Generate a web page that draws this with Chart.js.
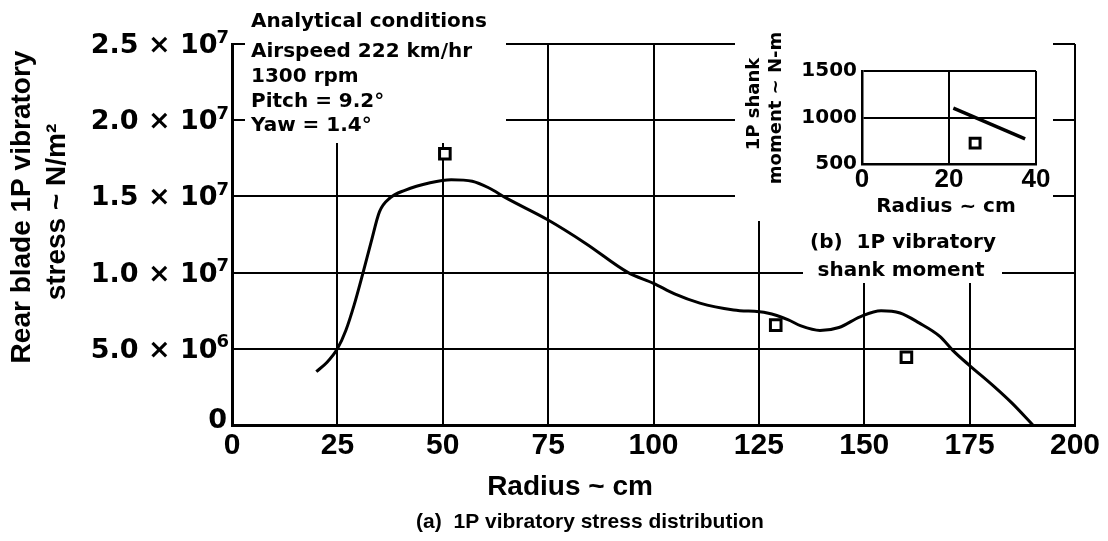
<!DOCTYPE html>
<html>
<head>
<meta charset="utf-8">
<script src="https://cdn.jsdelivr.net/npm/chart.js@4.4.1/dist/chart.umd.min.js"></script>
<style>
  html, body { margin: 0; padding: 0; background: #fff; }
  #wrap { position: relative; width: 1108px; height: 541px; overflow: hidden; }
  #main { position: absolute; left: 0; top: 0; }
  #inset { position: absolute; left: 735px; top: 0; }
</style>
</head>
<body>
<div id="wrap">
  <canvas id="main" width="1108" height="541"></canvas>
  <canvas id="inset" width="318" height="225"></canvas>
</div>
<script>
// (a) analytical 1P vibratory stress along the rear blade
const radiusCm = [20, 22.5, 25, 27, 29, 31, 33, 35, 37.5, 41, 47, 52, 57, 61, 65, 75, 84, 94, 100, 105, 111, 119, 127, 132, 135, 139.5, 144, 149, 154, 158.5, 163, 168, 171, 175, 180.5, 185, 190];
const stressNm2 = [3.5e6, 4.1e6, 5.0e6, 6.2e6, 7.9e6, 9.9e6, 1.2e7, 1.4e7, 1.49e7, 1.54e7, 1.59e7, 1.61e7, 1.60e7, 1.555e7, 1.49e7, 1.345e7, 1.19e7, 1.0e7, 9.3e6, 8.6e6, 8.0e6, 7.55e6, 7.35e6, 6.9e6, 6.5e6, 6.2e6, 6.4e6, 7.1e6, 7.5e6, 7.35e6, 6.7e6, 5.8e6, 4.9e6, 3.9e6, 2.6e6, 1.45e6, 0];

// measured points
const testRadiusCm = [50.5, 129, 160];
const testStressNm2 = [1.78e7, 6.55e6, 4.45e6];

// axis ticks
const radiusTicks = [0, 25, 50, 75, 100, 125, 150, 175, 200];
const stressTicks = [0, 5e6, 1e7, 1.5e7, 2e7, 2.5e7];
const stressMantissa = ['0', '5.0 \u00d7 10', '1.0 \u00d7 10', '1.5 \u00d7 10', '2.0 \u00d7 10', '2.5 \u00d7 10'];
const stressExponent = ['', '6', '7', '7', '7', '7'];

const conditionLines = ['Analytical conditions', 'Airspeed 222 km/hr', '1300 rpm', 'Pitch = 9.2\u00b0', 'Yaw = 1.4\u00b0'];

// (b) 1P vibratory shank moment
const shankRadiusCm = [21, 37.5];
const shankMomentNm = [1100, 770];
const shankTestRadiusCm = [26];
const shankTestMomentNm = [725];
const shankRadiusTicks = [0, 20, 40];
const shankMomentTicks = [500, 1000, 1500];

const BLACK = '#000';
const WIDE = '"DejaVu Sans", sans-serif';
const HELV = '"Liberation Sans", Arial, sans-serif';

function toPoints(xs, ys) { return xs.map((x, i) => ({ x: x, y: ys[i] })); }

// white panels that sit on top of the grid behind the annotations
const panels = {
  id: 'panels',
  beforeDatasetsDraw(chart) {
    const ctx = chart.ctx;
    ctx.save();
    ctx.fillStyle = '#fff';
    ctx.fillRect(245, 0, 261, 143);    // conditions block
    ctx.fillRect(735, 0, 318, 221);    // inset (b)
    ctx.fillRect(803, 221, 199, 62);   // inset caption
    ctx.restore();
  },
  afterDraw(chart) {
    const ctx = chart.ctx;
    const y = chart.scales.y;
    ctx.save();
    ctx.fillStyle = BLACK;

    // stress tick labels with raised exponents
    const right = 229;
    stressTicks.forEach((v, i) => {
      const py = y.getPixelForValue(v);
      ctx.textBaseline = 'middle';
      ctx.textAlign = 'right';
      if (stressExponent[i] === '') {
        ctx.font = 'bold 27px ' + WIDE;
        ctx.fillText(stressMantissa[i], right - 2, py - 4);
        return;
      }
      ctx.font = 'bold 18px ' + WIDE;
      const ew = ctx.measureText(stressExponent[i]).width;
      ctx.fillText(stressExponent[i], right, py - 6);
      ctx.font = 'bold 27px ' + WIDE;
      ctx.fillText(stressMantissa[i], right - ew + 1, py + 2);
    });

    // y axis title
    ctx.font = 'bold 28px ' + HELV;
    ctx.textAlign = 'center';
    ctx.textBaseline = 'middle';
    ctx.save();
    ctx.translate(22, 207);
    ctx.rotate(-Math.PI / 2);
    ctx.fillText('Rear blade 1P vibratory', 0, 0);
    ctx.restore();
    ctx.save();
    ctx.translate(57, 212);
    ctx.rotate(-Math.PI / 2);
    ctx.fillText('stress ~ N/m\u00b2', 0, 0);
    ctx.restore();

    // x axis title and caption
    ctx.font = 'bold 28px ' + HELV;
    ctx.fillText('Radius ~ cm', 570, 487);
    ctx.font = 'bold 21px ' + HELV;
    ctx.fillText('(a)  1P vibratory stress distribution', 590, 522);

    // analytical conditions
    ctx.font = 'bold 20px ' + WIDE;
    ctx.textAlign = 'left';
    const rows = [22, 52, 77, 102, 126];
    conditionLines.forEach((t, i) => ctx.fillText(t, 251, rows[i]));

    // inset caption
    ctx.textAlign = 'center';
    ctx.fillText('(b)  1P vibratory', 903, 243);
    ctx.fillText('shank moment', 901, 271);
    ctx.restore();
  }
};

new Chart(document.getElementById('main'), {
  type: 'line',
  data: {
    datasets: [
      {
        data: toPoints(radiusCm, stressNm2),
        borderColor: BLACK,
        borderWidth: 3,
        pointRadius: 0,
        fill: false,
        cubicInterpolationMode: 'monotone'
      },
      {
        data: toPoints(testRadiusCm, testStressNm2),
        showLine: false,
        pointStyle: 'rect',
        pointRadius: 7.5,
        borderWidth: 3,
        borderColor: BLACK,
        backgroundColor: '#fff'
      }
    ]
  },
  options: {
    responsive: false,
    animation: false,
    devicePixelRatio: 1,
    layout: { padding: { left: 0, top: 44, right: 33, bottom: 0 } },
    plugins: { legend: { display: false }, tooltip: { enabled: false } },
    scales: {
      x: {
        type: 'linear', min: 0, max: 200,
        afterBuildTicks: s => { s.ticks = radiusTicks.map(v => ({ value: v })); },
        afterFit: s => { s.height = 116; },
        grid: { color: BLACK, lineWidth: 2, drawTicks: false },
        border: { color: BLACK, width: 3 },
        ticks: {
          color: BLACK, padding: 3, maxRotation: 0, autoSkip: false,
          font: { family: HELV, weight: 'bold', size: 30 },
          callback: v => String(v)
        }
      },
      y: {
        type: 'linear', min: 0, max: 2.5e7,
        afterBuildTicks: s => { s.ticks = stressTicks.map(v => ({ value: v })); },
        afterFit: s => { s.width = 232; },
        grid: { color: BLACK, lineWidth: 2, drawTicks: false },
        border: { color: BLACK, width: 3 },
        ticks: { display: false }
      }
    }
  },
  plugins: [panels]
});

// inset titles
const insetTitles = {
  id: 'insetTitles',
  afterDraw(chart) {
    const ctx = chart.ctx;
    ctx.save();
    ctx.fillStyle = BLACK;
    ctx.textAlign = 'center';
    ctx.textBaseline = 'middle';
    ctx.font = 'bold 18px ' + WIDE;
    ctx.save();
    ctx.translate(19, 104);
    ctx.rotate(-Math.PI / 2);
    ctx.fillText('1P shank', 0, 0);
    ctx.restore();
    ctx.save();
    ctx.translate(41, 108);
    ctx.rotate(-Math.PI / 2);
    ctx.fillText('moment ~ N-m', 0, 0);
    ctx.restore();
    ctx.font = 'bold 20px ' + WIDE;
    ctx.fillText('Radius ~ cm', 211, 207);
    ctx.restore();
  }
};

new Chart(document.getElementById('inset'), {
  type: 'line',
  data: {
    datasets: [
      {
        data: toPoints(shankRadiusCm, shankMomentNm),
        borderColor: BLACK,
        borderWidth: 3.5,
        pointRadius: 0,
        fill: false
      },
      {
        data: toPoints(shankTestRadiusCm, shankTestMomentNm),
        showLine: false,
        pointStyle: 'rect',
        pointRadius: 7,
        borderWidth: 3,
        borderColor: BLACK,
        backgroundColor: '#fff'
      }
    ]
  },
  options: {
    responsive: false,
    animation: false,
    devicePixelRatio: 1,
    layout: { padding: { left: 0, top: 71, right: 17, bottom: 0 } },
    plugins: { legend: { display: false }, tooltip: { enabled: false } },
    scales: {
      x: {
        type: 'linear', min: 0, max: 40,
        afterBuildTicks: s => { s.ticks = shankRadiusTicks.map(v => ({ value: v })); },
        afterFit: s => { s.height = 61; },
        grid: { color: BLACK, lineWidth: 2, drawTicks: false },
        border: { color: BLACK, width: 2.5 },
        ticks: {
          color: BLACK, padding: 0, maxRotation: 0, autoSkip: false,
          font: { family: HELV, weight: 'bold', size: 26 },
          callback: v => String(v)
        }
      },
      y: {
        type: 'linear', min: 500, max: 1500,
        afterBuildTicks: s => { s.ticks = shankMomentTicks.map(v => ({ value: v })); },
        afterFit: s => { s.width = 127; },
        grid: { color: BLACK, lineWidth: 2, drawTicks: false },
        border: { color: BLACK, width: 2.5 },
        ticks: {
          color: BLACK, padding: 5, autoSkip: false,
          font: { family: WIDE, weight: 'bold', size: 20 },
          callback: v => String(v)
        }
      }
    }
  },
  plugins: [insetTitles]
});
</script>
</body>
</html>
